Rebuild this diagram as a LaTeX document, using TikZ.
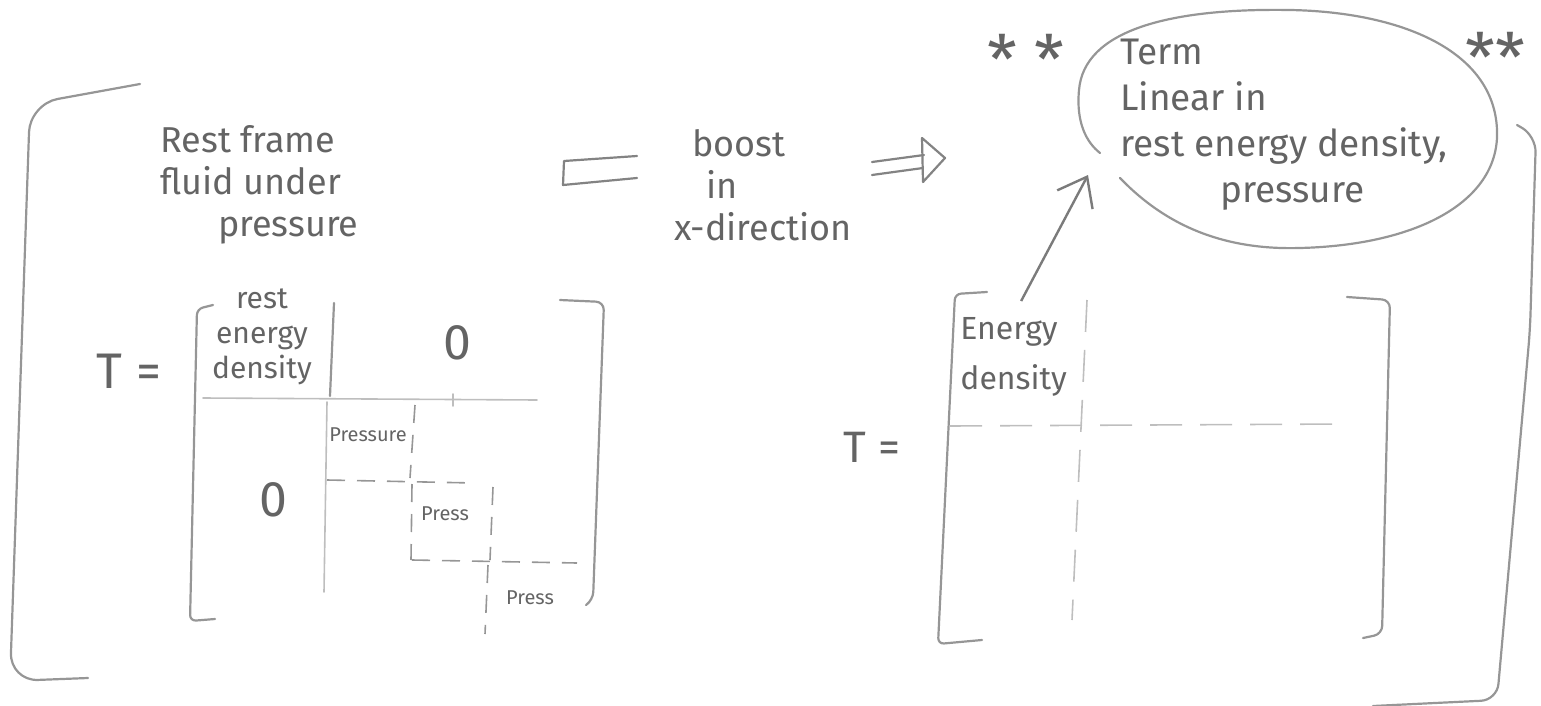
\documentclass[tikz,border=0pt]{standalone}
\usepackage{fontspec}
\setmainfont{Fira Sans}
\usepackage{xcolor}
\usepackage{tikz}
\usetikzlibrary{arrows.meta,positioning}
\definecolor{pencil}{RGB}{100,100,100}
\definecolor{faint}{RGB}{150,150,150}
\definecolor{ghost}{RGB}{190,190,190}

\begin{document}
\begin{tikzpicture}[x=0.5pt, y=-0.5pt,
    txt/.style={text=pencil, inner sep=1pt, font=\fontsize{18}{21}\selectfont},
    big/.style={text=pencil, inner sep=0pt, font=\fontsize{25}{25}\selectfont},
    cell/.style={text=pencil, inner sep=1pt, font=\fontsize{15}{17.5}\selectfont},
    tiny/.style={text=pencil, inner sep=1pt, font=\fontsize{10}{11}\selectfont},
    stars/.style={text=pencil, inner sep=0pt, anchor=base, font=\fontsize{34}{34}\selectfont},
    pen/.style={draw=faint, line width=1.1pt, line cap=round, line join=round},
    rule/.style={draw=ghost, line width=0.8pt, line cap=round},
    dashrule/.style={draw=faint, line width=0.8pt, dash pattern=on 9pt off 6pt},
    longdash/.style={draw=ghost, line width=0.8pt, dash pattern=on 16pt off 9pt},
    arrow/.style={draw=pencil!85, line width=1.2pt, -{Straight Barb[length=13pt,width=20pt]}}
]
    \useasboundingbox (0,0) rectangle (1541,706);

    % outer brackets
    \draw[pen, rounded corners=14pt] (140,84) -- (30,104) -- (10,681) -- (88,678);
    \draw[pen, rounded corners=8pt] (1517,125) -- (1536,136) -- (1530,330) -- (1497,700) -- (1373,706);

    % rest frame side
    \node[txt, align=left, anchor=west] (restframe) at (158,185) {Rest frame\\fluid under\\\hspace*{1.6em}pressure};
    \node[big] (tleft) at (129,371) {T =};
    \draw[pen, rounded corners=3pt] (213,305) -- (197,309) -- (190,621) -- (215,619);
    \draw[pen, rounded corners=4pt] (560,300) -- (604,302) -- (593,600) -- (586,605);
    \node[cell, align=center] (restdens) at (262,337) {rest\\energy\\density};
    \node[big] (zerotop) at (457,343) {0};
    \node[big] (zerobot) at (273,500) {0};
    \node[tiny] (pres1) at (368,435) {Pressure};
    \node[tiny] (pres2) at (445,514) {Press};
    \node[tiny] (pres3) at (530,598) {Press};
    \draw[pen] (334,303) -- (330,396);
    \draw[rule] (203,398) -- (537,400);
    \draw[rule] (327,402) -- (324,592);
    \draw[rule] (453,394) -- (453,406);
    \draw[dashrule] (415,405) -- (410,478);
    \draw[dashrule] (327,480) -- (474,483);
    \draw[dashrule] (412,484) -- (411,560);
    \draw[dashrule] (493,487) -- (490,560);
    \draw[dashrule] (412,560) -- (577,563);
    \draw[dashrule] (488,565) -- (485,634);

    % boost
    \node[txt, align=left, anchor=west] (boost) at (672,185) {\hspace*{0.5em}boost\\\hspace*{0.9em}in\\x-direction};
    \draw[pen, draw=pencil!80] (637,156) -- (564,161) -- (563,185) -- (637,178);
    \draw[pen, draw=pencil!80] (872,162) -- (924,155) (872,175) -- (923,168);
    \draw[pen, draw=pencil!80] (922,138) -- (945,158) -- (923,182) -- cycle;

    % boosted side
    \node[big, font=\fontsize{22}{22}\selectfont] (tright) at (872,447) {T =};
    \draw[pen, rounded corners=3pt] (987,292) -- (955,294) -- (938,644) -- (982,640);
    \draw[pen, rounded corners=4pt] (1347,297) -- (1390,300) -- (1382,634) -- (1363,638);
    \node[cell, align=left, anchor=west, font=\fontsize{16}{25}\selectfont] (edens) at (958,357) {Energy\\density};
    \draw[longdash] (1087,300) -- (1072,620);
    \draw[longdash] (950,426) -- (1343,424);

    % term bubble
    \node[stars] (starl) at (1026,85) {* *};
    \node[stars] (starr) at (1495,83) {**};
    \node[txt, align=left, anchor=west, font=\fontsize{18.5}{23}\selectfont] (term) at (1118,125) {Term\\Linear in\\rest energy density,\\\hspace*{2.7em}pressure};
    \draw[pen] (1120,178) .. controls (1170,230) and (1230,250) .. (1300,248)
        .. controls (1420,245) and (1500,200) .. (1497,130)
        .. controls (1494,50) and (1400,12) .. (1290,10)
        .. controls (1170,8) and (1084,30) .. (1079,90)
        .. controls (1076,122) and (1086,142) .. (1100,153);
    \coordinate (tip) at (1088,175);
    \draw[arrow, shorten <=8pt] (edens.north) -- (tip);
\end{tikzpicture}
\end{document}
